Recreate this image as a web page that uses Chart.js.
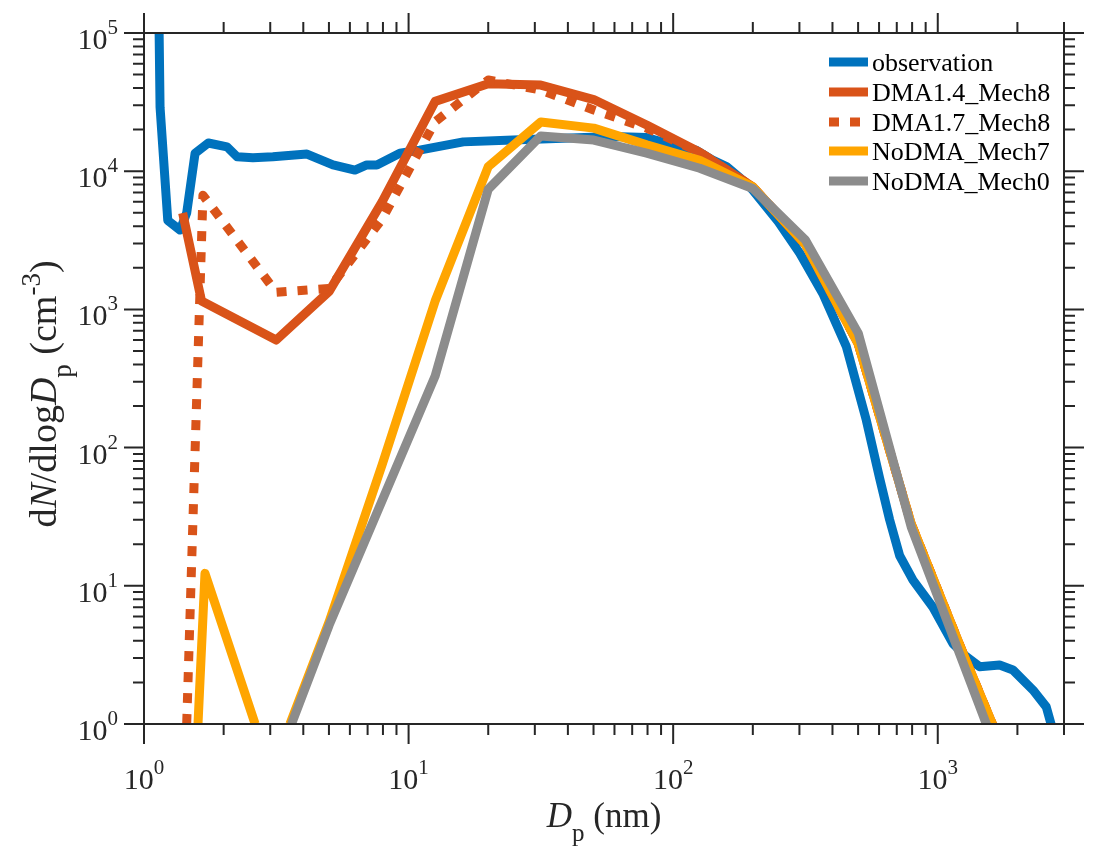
<!DOCTYPE html>
<html>
<head>
<meta charset="utf-8">
<script src="https://cdn.jsdelivr.net/npm/chart.js@4.4.1/dist/chart.umd.min.js"></script>
<style>
  html, body { margin: 0; padding: 0; background: #ffffff; }
  #wrap { width: 1099px; height: 862px; }
</style>
</head>
<body>
<div id="wrap"><canvas id="sizeChart" width="1099" height="862"></canvas></div>
<script>
// particle diameter (nm) and dN/dlogDp (cm^-3)
const obsD = [1.14, 1.15, 1.23, 1.37, 1.45, 1.56, 1.75, 2.06, 2.25, 2.58, 3.07, 4.13, 5.18, 6.27, 6.95, 7.59, 9.27, 11.0, 16.1, 24.8, 38.4, 59.3, 79.3, 106, 122, 141, 159, 189, 200, 250, 301, 368, 451, 537, 603, 658, 718, 806, 959, 1143, 1282, 1439, 1713, 1924, 2291, 2571, 2700];
const obsN = [110000, 29000, 4400, 3750, 5000, 13500, 16000, 15000, 12700, 12500, 12700, 13300, 11100, 10200, 11100, 11100, 13500, 14200, 16300, 16800, 17300, 17800, 17500, 15000, 14200, 12050, 10800, 8200, 7300, 4300, 2550, 1300, 540, 158, 60, 30, 16.5, 11, 7, 3.8, 3.07, 2.6, 2.67, 2.46, 1.76, 1.33, 0.95];

const dma14D = [1.40, 1.65, 3.16, 5.01, 7.94, 12.6, 20.0, 31.6, 50.1, 79.4, 126, 200, 316, 501, 794, 1259, 1995];
const dma14N = [4980, 1150, 600, 1350, 6000, 32000, 43000, 42000, 33000, 21600, 13700, 7700, 2950, 560, 28, 3.1, 0.37];

const dma17D = [1.45, 1.67, 3.16, 5.01, 7.94, 12.6, 20.0, 31.6, 50.1, 79.4, 126, 200, 316, 501, 794, 1259, 1995];
const dma17N = [1, 6700, 1330, 1420, 4500, 22800, 45700, 38700, 27700, 20500, 13700, 7700, 2950, 560, 28, 3.1, 0.37];

const mech7D = [1.60, 1.70, 2.63, 3.00, 3.56, 5.01, 7.94, 12.6, 20.0, 31.6, 50.1, 79.4, 126, 200, 316, 501, 794, 1259, 1995];
const mech7N = [1, 12.3, 1, null, 1, 5.5, 75, 1150, 10800, 22700, 20500, 15500, 12000, 7700, 2950, 560, 28, 3.1, 0.37];

const mech0D = [3.61, 5.01, 12.6, 20.0, 31.6, 50.1, 79.4, 126, 200, 316, 501, 794, 1259, 1995];
const mech0N = [1, 5.2, 330, 7400, 18000, 16800, 13500, 10500, 7500, 3180, 671, 26.6, 2.63, 0.26];

const seriesNames = ["observation", "DMA1.4_Mech8", "DMA1.7_Mech8", "NoDMA_Mech7", "NoDMA_Mech0"];
const seriesColors = ["#0072BD", "#D95319", "#D95319", "#FFA500", "#8C8C8C"];
const seriesDash = [[], [], [10, 11], [], []];

const xDecades = [0, 1, 2, 3];
const yDecades = [0, 1, 2, 3, 4, 5];
const xMin = 1, xMax = 3000, yMin = 1, yMax = 100000;

const SERIF = "'Liberation Serif', 'Times New Roman', serif";

const toPoints = (xs, ys) => xs.map((x, i) => ({ x: x, y: ys[i] }));

const allSeries = [
  toPoints(obsD, obsN),
  toPoints(dma14D, dma14N),
  toPoints(dma17D, dma17N),
  toPoints(mech7D, mech7N),
  toPoints(mech0D, mech0N)
];

const datasets = allSeries.map((pts, i) => ({
  label: seriesNames[i],
  data: pts,
  borderColor: seriesColors[i],
  backgroundColor: seriesColors[i],
  borderWidth: 9,
  borderDash: seriesDash[i],
  borderCapStyle: "butt",
  borderJoinStyle: "round",
  pointRadius: 0,
  tension: 0,
  spanGaps: false,
  clip: 0,
  order: 5 - i   // later series drawn on top
}));

// all minor + major tick values for a log axis
function logTicks(decades, maxV) {
  const out = [];
  decades.forEach((d) => {
    for (let m = 1; m <= 9; m++) {
      const v = m * Math.pow(10, d);
      if (v <= maxV * 1.0001) out.push({ v: v, major: m === 1 });
    }
  });
  return out;
}

function richWidth(ctx, parts) {
  let w = 0;
  parts.forEach((p) => { ctx.font = p.font; w += ctx.measureText(p.t).width; });
  return w;
}

function drawRich(ctx, parts, x, y) {
  let cx = x;
  parts.forEach((p) => {
    ctx.font = p.font;
    ctx.fillText(p.t, cx, y + (p.dy || 0));
    cx += ctx.measureText(p.t).width;
  });
}

function powerLabel(e) {
  return [
    { t: "10", font: "30px " + SERIF },
    { t: String(e), font: "21px " + SERIF, dy: -15 }
  ];
}

// axes box, outward ticks on all four sides, tick labels, titles, legend
const framePlugin = {
  id: "frame",
  afterDraw(chart) {
    const ctx = chart.ctx;
    const a = chart.chartArea;
    const xs = chart.scales.x;
    const ys = chart.scales.y;
    ctx.save();
    ctx.strokeStyle = "#262626";
    ctx.fillStyle = "#262626";
    ctx.lineWidth = 2;
    ctx.setLineDash([]);
    ctx.strokeRect(a.left, a.top, a.right - a.left, a.bottom - a.top);

    ctx.beginPath();
    logTicks(xDecades, xMax).forEach((t) => {
      const px = xs.getPixelForValue(t.v);
      const len = t.major ? 20 : 11;
      ctx.moveTo(px, a.bottom); ctx.lineTo(px, a.bottom + len);
      ctx.moveTo(px, a.top); ctx.lineTo(px, a.top - len);
    });
    logTicks(yDecades, yMax).forEach((t) => {
      const py = ys.getPixelForValue(t.v);
      const len = t.major ? 20 : 11;
      ctx.moveTo(a.left, py); ctx.lineTo(a.left - len, py);
      ctx.moveTo(a.right, py); ctx.lineTo(a.right + len, py);
    });
    ctx.stroke();

    ctx.textBaseline = "alphabetic";
    ctx.textAlign = "left";
    xDecades.forEach((d) => {
      const px = xs.getPixelForValue(Math.pow(10, d));
      const parts = powerLabel(d);
      const w = richWidth(ctx, parts);
      drawRich(ctx, parts, px - w / 2, a.bottom + 65);
    });
    yDecades.forEach((d) => {
      const py = ys.getPixelForValue(Math.pow(10, d));
      const parts = powerLabel(d);
      const w = richWidth(ctx, parts);
      drawRich(ctx, parts, a.left - 26 - w, py + 16);
    });

    // x title
    const xt = [
      { t: "D", font: "italic 35px " + SERIF },
      { t: "p", font: "25px " + SERIF, dy: 14 },
      { t: " (nm)", font: "35px " + SERIF }
    ];
    const xw = richWidth(ctx, xt);
    drawRich(ctx, xt, (a.left + a.right) / 2 - xw / 2, 827);

    // y title, rotated
    const yt = [
      { t: "d", font: "38px " + SERIF },
      { t: "N", font: "italic 38px " + SERIF },
      { t: "/dlog", font: "38px " + SERIF },
      { t: "D", font: "italic 38px " + SERIF },
      { t: "p", font: "27px " + SERIF, dy: 15 },
      { t: " (cm", font: "38px " + SERIF },
      { t: "-3", font: "27px " + SERIF, dy: -16 },
      { t: ")", font: "38px " + SERIF }
    ];
    const yw = richWidth(ctx, yt);
    ctx.save();
    ctx.translate(56, 394);
    ctx.rotate(-Math.PI / 2);
    drawRich(ctx, yt, -yw / 2, 0);
    ctx.restore();

    // legend, top right inside the box
    const rowY = [62, 92, 122, 151, 181];
    seriesNames.forEach((name, i) => {
      ctx.strokeStyle = seriesColors[i];
      ctx.lineWidth = 9;
      ctx.lineCap = "butt";
      ctx.setLineDash(seriesDash[i]);
      ctx.beginPath();
      ctx.moveTo(829, rowY[i]);
      ctx.lineTo(868, rowY[i]);
      ctx.stroke();
      ctx.setLineDash([]);
      ctx.fillStyle = "#000000";
      ctx.font = "26px " + SERIF;
      ctx.fillText(name, 872, rowY[i] + 9);
    });
    ctx.restore();
  }
};

new Chart(document.getElementById("sizeChart"), {
  type: "line",
  data: { datasets: datasets },
  options: {
    responsive: false,
    devicePixelRatio: 1,
    animation: false,
    parsing: true,
    layout: { padding: { left: 144, top: 33, right: 35, bottom: 138 } },
    plugins: { legend: { display: false }, tooltip: { enabled: false } },
    scales: {
      x: { type: "logarithmic", min: xMin, max: xMax, display: false },
      y: { type: "logarithmic", min: yMin, max: yMax, display: false }
    }
  },
  plugins: [framePlugin]
});
</script>
</body>
</html>
